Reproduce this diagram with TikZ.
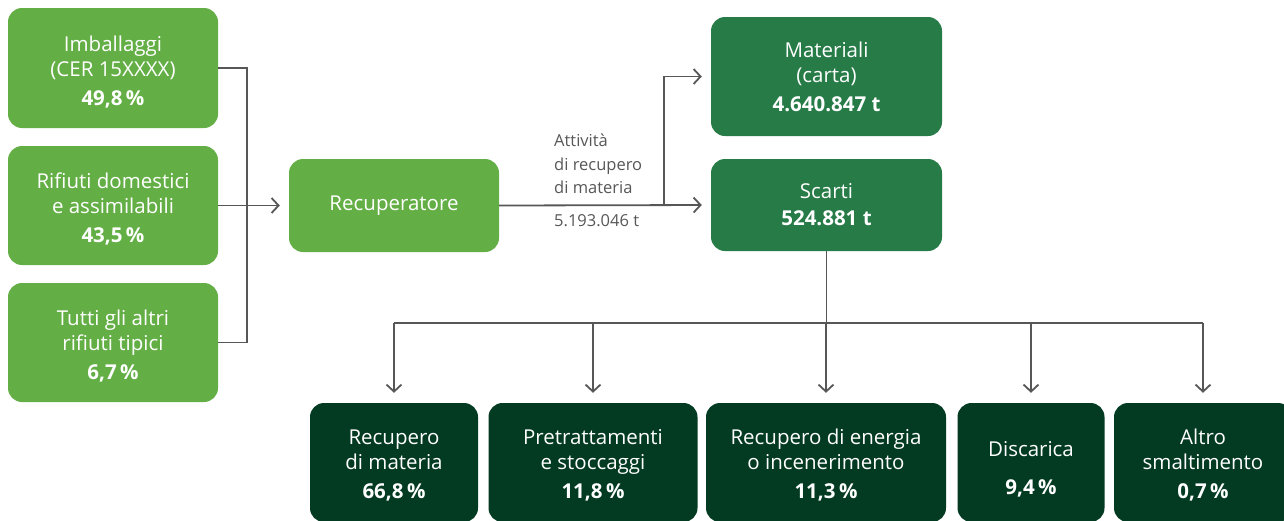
\documentclass[tikz,border=0pt]{standalone}
\usepackage{fontspec}
\setmainfont{Open Sans}
\usetikzlibrary{arrows.meta}
\definecolor{lgreen}{HTML}{63AF45}
\definecolor{mgreen}{HTML}{267B47}
\definecolor{dgreen}{HTML}{033A22}
\definecolor{lgray}{HTML}{575757}
\newcommand\mytopA{\rule{0pt}{23.5pt}}
\newcommand\mytopB{\rule{0pt}{21.5pt}}
\newcommand\mytopC{\rule{0pt}{28pt}}
\begin{document}
\begin{tikzpicture}[x=1pt,y=-1pt,
  box/.style={rounded corners=14pt, text=white, align=center, inner sep=0pt,
    font=\fontsize{20.5}{25}\selectfont},
  lbox/.style={box, fill=lgreen},
  mbox/.style={box, fill=mgreen},
  dbox/.style={box, fill=dgreen, minimum height=119pt},
  conn/.style={draw=lgray, line width=1.8pt},
  arr/.style={conn, -{Straight Barb[length=7pt,width=15pt,line width=1.8pt]}},
  lab/.style={text=lgray, align=left, anchor=west, inner sep=0pt,
    font=\fontsize{16.5}{23.5}\selectfont}
]
\useasboundingbox (0,0) rectangle (1284,520);
\clip (0,0) rectangle (1284,520);
% left column
\node[lbox, minimum width=210pt, minimum height=120pt] (b1) at (113,68) {\mytopA Imballaggi\\(CER 15XXXX)\\[4pt]\textbf{49,8\,\%}};
\node[lbox, minimum width=210pt, minimum height=119pt] (b2) at (113,205.5) {\mytopA Rifiuti domestici\\e assimilabili\\[4pt]\textbf{43,5\,\%}};
\node[lbox, minimum width=210pt, minimum height=119pt] (b3) at (113,342.5) {\mytopA Tutti gli altri\\rifiuti tipici\\[4pt]\textbf{6,7\,\%}};
% recuperatore
\node[lbox, minimum width=210pt, minimum height=93pt] (rec) at (394,205.5) {Recuperatore};
% right top
\node[mbox, minimum width=231pt, minimum height=119pt] (mat) at (826.5,76.5) {Materiali\\(carta)\\[4pt]\textbf{4.640.847 t}};
\node[mbox, minimum width=231pt, minimum height=92pt] (sca) at (826.5,205) {Scarti\\[2pt]\textbf{524.881 t}};
% bottom row
\node[dbox, minimum width=168pt] (d1) at (394,462.5) {\mytopB Recupero\\di materia\\[4pt]\textbf{66,8\,\%}};
\node[dbox, minimum width=209pt] (d2) at (593,462.5) {\mytopB Pretrattamenti\\e stoccaggi\\[4pt]\textbf{11,8\,\%}};
\node[dbox, minimum width=240pt] (d3) at (826,462.5) {\mytopB Recupero di energia\\o incenerimento\\[4pt]\textbf{11,3\,\%}};
\node[dbox, minimum width=147pt] (d4) at (1031,462.5) {\mytopC Discarica\\[13pt]\textbf{9,4\,\%}};
\node[dbox, minimum width=178pt] (d5) at (1203,462.5) {\mytopB Altro\\smaltimento\\[4pt]\textbf{0,7\,\%}};
% labels
\node[lab] (l1) at (554,164) {Attività\\di recupero\\di materia};
\node[lab] (l2) at (554,221) {5.193.046 t};
% connectors left
\coordinate (j) at (247,205.5);
\draw[conn] (b1.east) -| (j) |- (b3.east);
\draw[arr, shorten >=9pt] (b2.east) -- (rec.west);
% connectors right
\coordinate (br) at (664,205.5);
\draw[arr, shorten >=9pt] (rec.east) -- (sca.west);
\draw[arr, shorten >=9pt] (br) |- (mat.west);
% bus
\coordinate (bl) at (394,323);
\coordinate (bro) at (1203,323);
\draw[conn] (sca.south) -- (sca.south |- bl);
\draw[conn] (bl) -- (bro);
\foreach \n in {d1,d2,d3,d4,d5}{
  \draw[arr, shorten >=10pt] (\n.north |- bl) -- (\n.north);
}
\end{tikzpicture}
\end{document}
